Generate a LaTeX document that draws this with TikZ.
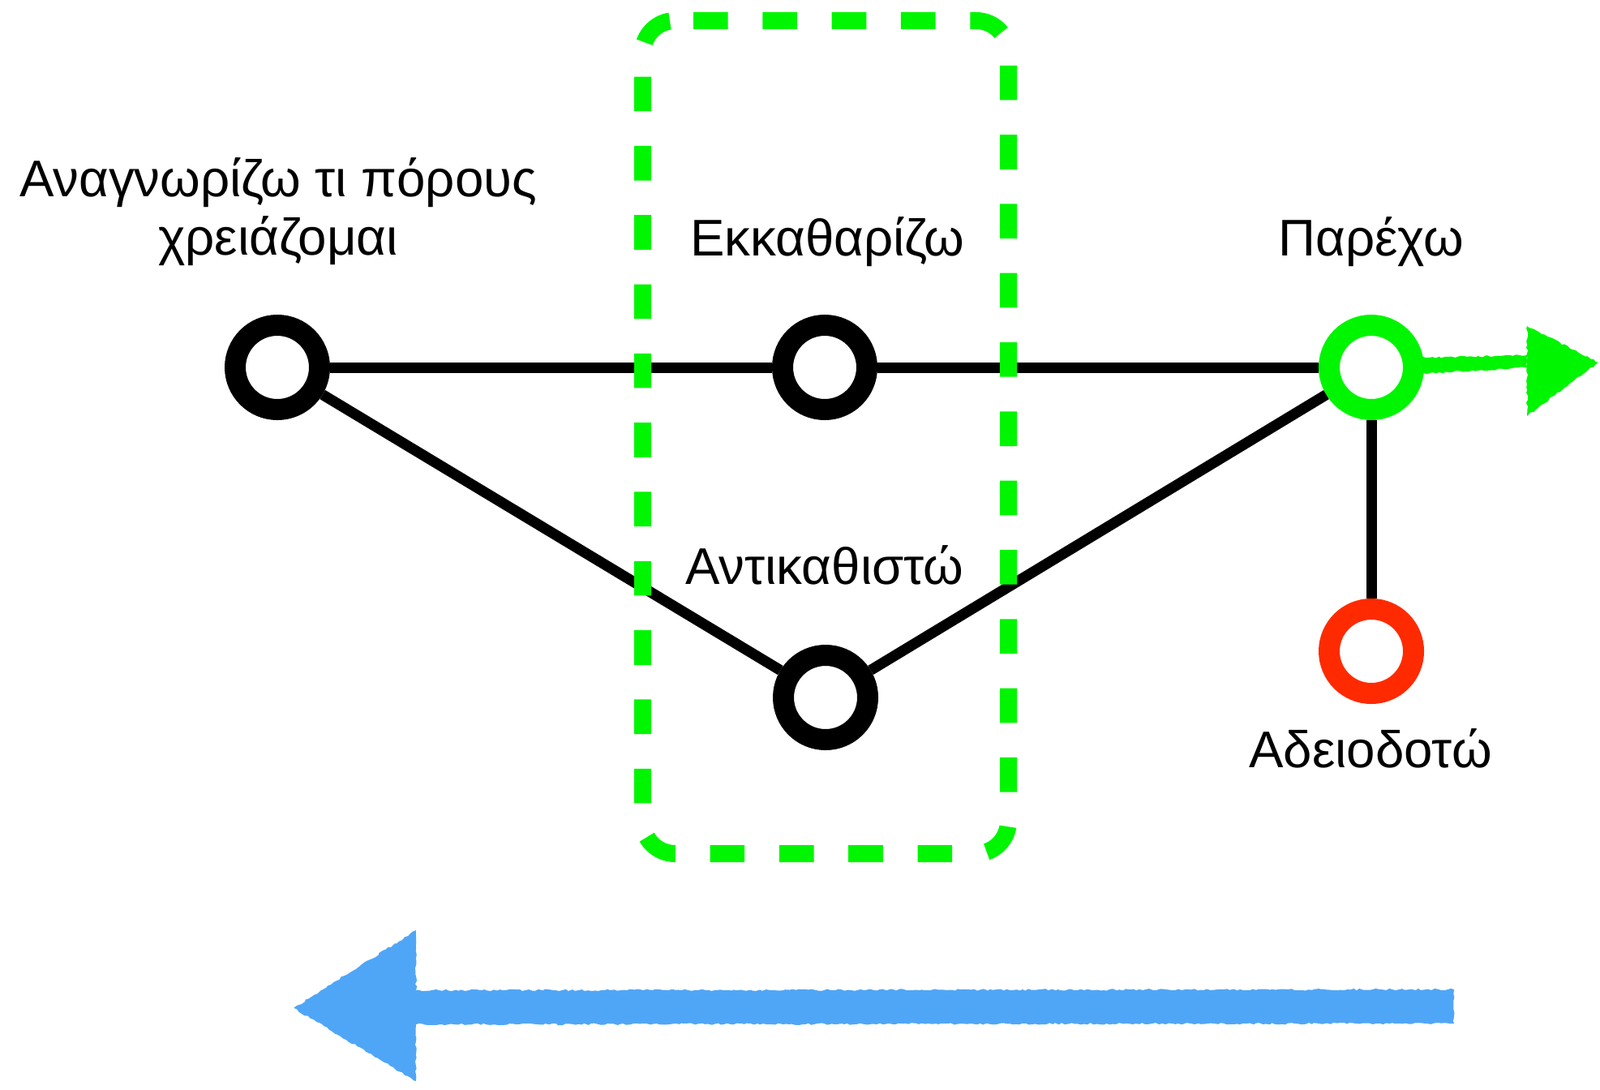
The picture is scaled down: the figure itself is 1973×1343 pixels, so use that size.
\documentclass[tikz,border=0pt]{standalone}
\usepackage{fontspec}
\setmainfont{Liberation Sans}
\usetikzlibrary{decorations.pathmorphing,calc}
\definecolor{boxgreen}{RGB}{0,245,0}
\definecolor{ringred}{RGB}{255,42,0}
\definecolor{chalkblue}{RGB}{80,166,246}
\begin{document}
\begin{tikzpicture}[x=0.5pt,y=-0.5pt,
  ring/.style={circle, draw=#1, line width=13pt, fill=white, minimum size=52pt, inner sep=0pt},
  ring/.default=black,
  link/.style={draw=black, line width=6.5pt},
  lbl/.style={anchor=base, inner sep=0pt, font=\fontsize{31.8}{33}\selectfont},
  dashbox/.style={draw=boxgreen, line width=10.5pt, dash pattern=on 21.33pt off 21.33pt, rounded corners=20pt},
  chalk/.style={decorate, decoration={random steps, segment length=2pt, amplitude=0.6pt}}
]
\useasboundingbox (0,0) rectangle (1973,1343);

% nodes
\node[ring] (A) at (342,453) {};
\node[ring] (B) at (1017,453) {};
\node[ring] (C) at (1018,860) {};
\node[ring=boxgreen] (P) at (1691,453) {};
\node[ring=ringred] (R) at (1691,803) {};

% connectors
\draw[link] (A) -- (B);
\draw[link] (B) -- (P);
\draw[link] (A) -- (C);
\draw[link] (C) -- (P);
\draw[link] (P) -- (R);

% labels
\node[lbl] (tA1) at (343,242) {Αναγνωρίζω τι πόρους};
\node[lbl] (tA2) at (343,314) {χρειάζομαι};
\node[lbl] (tB) at (1020,315) {Εκκαθαρίζω};
\node[lbl] (tP) at (1691,315) {Παρέχω};
\node[lbl] (tC) at (1017,720) {Αντικαθιστώ};
\node[lbl] (tR) at (1690,946) {Αδειοδοτώ};

% green arrow out of P
\coordinate (gtip) at (1971,447);
\fill[boxgreen, chalk] ($(P.east)+(-6,-12)$) -- (1883,438) -- (1883,453) -- ($(P.east)+(-6,8)$) -- cycle;
\fill[boxgreen, chalk] (1883,402) -- (gtip) -- (1883,513) -- cycle;

% dashed green box
\draw[dashbox] (855,25.5) -- (1243.5,25.5) -- (1243.5,1052.5) -- (792.5,1052.5) -- (792.5,25.5) -- (855,25.5);

% blue chalk arrow
\coordinate (btail) at (1793,1241);
\coordinate (btip) at (362,1243);
\fill[chalkblue, chalk] ($(btail)+(0,-21)$) -- (513,1221) -- (513,1147) -- (btip) -- (513,1333) -- (513,1263) -- ($(btail)+(0,21)$) -- cycle;
\end{tikzpicture}
\end{document}
